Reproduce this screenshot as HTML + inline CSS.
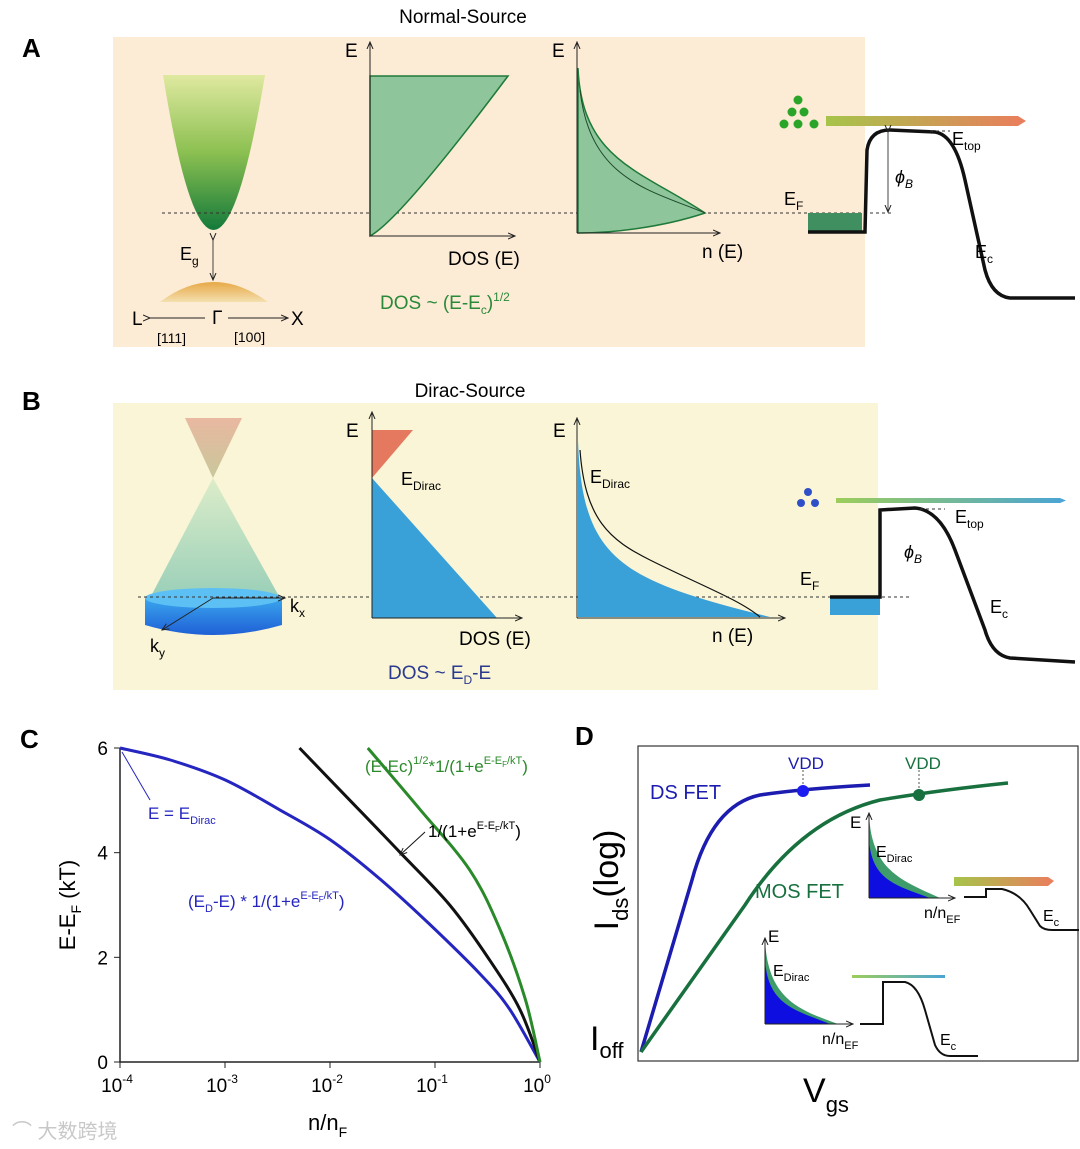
<!DOCTYPE html>
<html><head><meta charset="utf-8"><style>
body{margin:0;background:#fff}
svg{display:block;font-family:"Liberation Sans","Noto Sans CJK SC",sans-serif}
</style></head><body>
<svg width="1080" height="1149" viewBox="0 0 1080 1149">
<defs>
<linearGradient id="gband" x1="0" y1="0" x2="0" y2="1"><stop offset="0" stop-color="#dfe9a0"/><stop offset="0.5" stop-color="#8cc051"/><stop offset="1" stop-color="#137a3a"/></linearGradient>
<linearGradient id="gval" x1="0" y1="0" x2="0" y2="1"><stop offset="0" stop-color="#e7a946"/><stop offset="1" stop-color="#f4dfae"/></linearGradient>
<linearGradient id="gbarA" x1="0" x2="1"><stop offset="0" stop-color="#a6c44a"/><stop offset="1" stop-color="#ea7d5d"/></linearGradient>
<linearGradient id="gbarB" x1="0" x2="1"><stop offset="0" stop-color="#9ccd5b"/><stop offset="1" stop-color="#4aa4d6"/></linearGradient>
<linearGradient id="gcone1" x1="0" y1="0" x2="0" y2="1"><stop offset="0" stop-color="#e9b8a0"/><stop offset="1" stop-color="#c9c79b"/></linearGradient>
<linearGradient id="gcone2" x1="0" y1="0" x2="0" y2="1"><stop offset="0" stop-color="#d9ecc8"/><stop offset="1" stop-color="#8fcbb5"/></linearGradient>
<linearGradient id="gdisk" x1="0" y1="0" x2="0" y2="1"><stop offset="0" stop-color="#3aa6ee"/><stop offset="1" stop-color="#1f5fd6"/></linearGradient>
<marker id="ar" markerWidth="8" markerHeight="8" refX="7" refY="4" orient="auto"><path d="M0,1 L7,4 L0,7" fill="none" stroke="#222" stroke-width="1"/></marker>
</defs>

<!-- Panel A -->
<g>
<text x="463" y="23" font-size="19" text-anchor="middle">Normal-Source</text>
<text x="22" y="57" font-size="26" font-weight="bold">A</text>
<rect x="113" y="37" width="752" height="310" fill="#fcebd5"/>
<path d="M163,75 Q213,385 265,75 Z" fill="url(#gband)"/>
<path d="M160,302 Q213,262 268,302 Z" fill="url(#gval)"/>
<line x1="213" y1="240" x2="213" y2="280" stroke="#444" stroke-width="1" marker-end="url(#ar)" marker-start="url(#ar)"/>
<text x="180" y="260" font-size="18">E<tspan font-size="12" dy="5">g</tspan></text>
<line x1="150" y1="318" x2="205" y2="318" stroke="#222" marker-start="url(#ar)"/>
<line x1="228" y1="318" x2="288" y2="318" stroke="#222" marker-end="url(#ar)"/>
<text x="132" y="325" font-size="19">L</text><text x="212" y="324" font-size="19">Γ</text><text x="291" y="325" font-size="19">X</text>
<text x="157" y="343" font-size="14">[111]</text><text x="234" y="342" font-size="14">[100]</text>
<line x1="162" y1="213" x2="892" y2="213" stroke="#333" stroke-dasharray="3,3"/>
<path d="M370,236 L370,76 L508,76 Q400,220 370,236 Z" fill="#8ec59a" stroke="#1e7a3a" stroke-width="1.5"/>
<line x1="370" y1="236" x2="370" y2="42" stroke="#222" marker-end="url(#ar)"/>
<line x1="370" y1="236" x2="515" y2="236" stroke="#222" marker-end="url(#ar)"/>
<text x="345" y="57" font-size="19">E</text><text x="448" y="265" font-size="19">DOS (E)</text>
<text x="380" y="309" font-size="19" fill="#2a8a3a">DOS ~ (E-E<tspan font-size="12" dy="5">c</tspan><tspan dy="-5">)</tspan><tspan font-size="12" dy="-8">1/2</tspan></text>
<path d="M578,68 C582,160 640,170 705,213 C660,228 610,233 578,233 Z" fill="#8ec59a" stroke="#1e7a3a" stroke-width="1.5"/>
<path d="M580,90 C590,180 650,190 705,213" fill="none" stroke="#1e4a2a" stroke-width="1"/>
<line x1="577" y1="233" x2="577" y2="42" stroke="#222" marker-end="url(#ar)"/>
<line x1="577" y1="233" x2="720" y2="233" stroke="#222" marker-end="url(#ar)"/>
<text x="552" y="57" font-size="19">E</text><text x="702" y="258" font-size="19">n (E)</text>
<g fill="#2aa52a"><circle cx="798" cy="100" r="4.5"/><circle cx="792" cy="112" r="4.5"/><circle cx="804" cy="112" r="4.5"/><circle cx="784" cy="124" r="4.5"/><circle cx="798" cy="124" r="4.5"/><circle cx="814" cy="124" r="4.5"/></g>
<path d="M826,116 L1018,116 L1026,121 L1018,126 L826,126 Z" fill="url(#gbarA)"/>
<rect x="808" y="213" width="54" height="19" fill="#3f8f60"/>
<path d="M808,232 L865,232 L867,150 Q870,130 890,130 L935,132 Q955,135 965,180 L985,270 Q992,296 1010,298 L1075,298" fill="none" stroke="#111" stroke-width="3.5"/>
<line x1="888" y1="132" x2="888" y2="212" stroke="#444" marker-end="url(#ar)" marker-start="url(#ar)"/>
<line x1="930" y1="131" x2="950" y2="131" stroke="#333" stroke-dasharray="3,3"/>
<text x="784" y="205" font-size="18">E<tspan font-size="12" dy="5">F</tspan></text>
<text x="895" y="183" font-size="18" font-style="italic">ϕ<tspan font-size="12" dy="5">B</tspan></text>
<text x="952" y="145" font-size="18">E<tspan font-size="12" dy="5">top</tspan></text>
<text x="975" y="258" font-size="18">E<tspan font-size="12" dy="5">c</tspan></text>
</g>

<!-- Panel B -->
<g>
<text x="470" y="397" font-size="19" text-anchor="middle">Dirac-Source</text>
<text x="22" y="410" font-size="26" font-weight="bold">B</text>
<rect x="113" y="403" width="765" height="287" fill="#f9f5d6"/>
<path d="M185,418 L242,418 L213,478 Z" fill="url(#gcone1)"/>
<path d="M213,478 L150,598 L280,598 Z" fill="url(#gcone2)" opacity="0.9"/>
<path d="M145,598 L145,625 Q213,645 282,625 L282,598 Z" fill="url(#gdisk)"/>
<ellipse cx="213" cy="598" rx="68" ry="10" fill="#5cc0f5"/>
<line x1="213" y1="598" x2="285" y2="598" stroke="#222" marker-end="url(#ar)"/>
<line x1="213" y1="598" x2="162" y2="630" stroke="#222" marker-end="url(#ar)"/>
<text x="290" y="612" font-size="18">k<tspan font-size="12" dy="5">x</tspan></text>
<text x="150" y="652" font-size="18">k<tspan font-size="12" dy="5">y</tspan></text>
<line x1="138" y1="597" x2="912" y2="597" stroke="#333" stroke-dasharray="3,3"/>
<path d="M372,430 L413,430 L372,478 Z" fill="#e4795f"/>
<path d="M372,478 L372,618 L497,618 Z" fill="#3aa0d8"/>
<line x1="372" y1="618" x2="372" y2="412" stroke="#222" marker-end="url(#ar)"/>
<line x1="372" y1="618" x2="522" y2="618" stroke="#222" marker-end="url(#ar)"/>
<text x="346" y="437" font-size="19">E</text>
<text x="401" y="485" font-size="18">E<tspan font-size="12" dy="5">Dirac</tspan></text>
<text x="459" y="645" font-size="19">DOS (E)</text>
<text x="388" y="679" font-size="19" fill="#2b3a8f">DOS ~ E<tspan font-size="12" dy="5">D</tspan><tspan dy="-5">-E</tspan></text>
<path d="M578,440 C582,560 620,580 770,617 L578,617 Z" fill="#3aa0d8"/>
<path d="M580,450 C585,520 610,540 650,560 C700,585 740,600 760,617" fill="none" stroke="#111" stroke-width="1.2"/>
<line x1="577" y1="618" x2="577" y2="418" stroke="#222" marker-end="url(#ar)"/>
<line x1="577" y1="618" x2="785" y2="618" stroke="#222" marker-end="url(#ar)"/>
<text x="553" y="437" font-size="19">E</text>
<text x="590" y="483" font-size="18">E<tspan font-size="12" dy="5">Dirac</tspan></text>
<text x="712" y="642" font-size="19">n (E)</text>
<g fill="#2f4fc8"><circle cx="808" cy="492" r="4"/><circle cx="801" cy="503" r="4"/><circle cx="815" cy="503" r="4"/></g>
<path d="M836,498 L1060,498 L1066,500.5 L1060,503 L836,503 Z" fill="url(#gbarB)"/>
<rect x="830" y="597" width="50" height="18" fill="#3aa0d8"/>
<path d="M830,597 L880,597 L880,510 L915,508 Q940,510 955,550 L985,630 Q992,655 1010,658 L1075,662" fill="none" stroke="#111" stroke-width="3.5"/>
<line x1="920" y1="509" x2="945" y2="509" stroke="#333" stroke-dasharray="3,3"/>
<text x="800" y="585" font-size="18">E<tspan font-size="12" dy="5">F</tspan></text>
<text x="904" y="558" font-size="18" font-style="italic">ϕ<tspan font-size="12" dy="5">B</tspan></text>
<text x="955" y="523" font-size="18">E<tspan font-size="12" dy="5">top</tspan></text>
<text x="990" y="613" font-size="18">E<tspan font-size="12" dy="5">c</tspan></text>
</g>

<!-- Panel C -->
<text x="20" y="748" font-size="26" font-weight="bold">C</text>
<g id="chartC"></g>
<text x="148" y="819" font-size="17" fill="#2525c0">E = E<tspan font-size="11" dy="5">Dirac</tspan></text>
<line x1="150" y1="800" x2="122" y2="752" stroke="#2525c0"/>
<text x="188" y="907" font-size="17" fill="#2525c0">(E<tspan font-size="11" dy="5">D</tspan><tspan dy="-5">-E) * 1/(1+e</tspan><tspan font-size="11" dy="-8">E-E</tspan><tspan font-size="8" dy="3">F</tspan><tspan font-size="11" dy="-3">/kT</tspan><tspan dy="8">)</tspan></text>
<text x="428" y="837" font-size="17">1/(1+e<tspan font-size="11" dy="-8">E-E</tspan><tspan font-size="8" dy="3">F</tspan><tspan font-size="11" dy="-3">/kT</tspan><tspan dy="8">)</tspan></text>
<line x1="425" y1="832" x2="400" y2="855" stroke="#111" marker-end="url(#ar)"/>
<text x="365" y="772" font-size="17" fill="#2a8a2a">(E-Ec)<tspan font-size="11" dy="-8">1/2</tspan><tspan dy="8">*1/(1+e</tspan><tspan font-size="11" dy="-8">E-E</tspan><tspan font-size="8" dy="3">F</tspan><tspan font-size="11" dy="-3">/kT</tspan><tspan dy="8">)</tspan></text>
<text transform="translate(75,905) rotate(-90)" font-size="22" text-anchor="middle">E-E<tspan font-size="14" dy="6">F</tspan><tspan dy="-6"> (kT)</tspan></text>
<text x="308" y="1130" font-size="22">n/n<tspan font-size="14" dy="7">F</tspan></text>

<!-- Panel D -->
<g>
<text x="575" y="745" font-size="26" font-weight="bold">D</text>
<rect x="638" y="746" width="440" height="315" fill="none" stroke="#333" stroke-width="1.2"/>
<path d="M641,1052 L692,880 Q712,805 760,795 Q800,789 870,785" fill="none" stroke="#1c1cb0" stroke-width="3.5"/>
<path d="M641,1052 L745,905 Q800,820 880,800 Q940,790 1008,783" fill="none" stroke="#17703e" stroke-width="3.5"/>
<line x1="803" y1="770" x2="803" y2="790" stroke="#555" stroke-dasharray="2,2"/>
<line x1="919" y1="770" x2="919" y2="795" stroke="#555" stroke-dasharray="2,2"/>
<circle cx="803" cy="791" r="6" fill="#1c1cf0"/><circle cx="919" cy="795" r="6" fill="#17703e"/>
<text x="788" y="769" font-size="17" fill="#1c1cb0">VDD</text>
<text x="905" y="769" font-size="17" fill="#17703e">VDD</text>
<text x="650" y="799" font-size="20" fill="#1c1cb0">DS FET</text>
<text x="755" y="898" font-size="20" fill="#17703e">MOS FET</text>
<text transform="translate(618,880) rotate(-90)" font-size="34" text-anchor="middle">I<tspan font-size="22" dy="10">ds</tspan><tspan dy="-10">(log)</tspan></text>
<text x="590" y="1050" font-size="34">I<tspan font-size="22" dy="8">off</tspan></text>
<text x="803" y="1102" font-size="34">V<tspan font-size="22" dy="10">gs</tspan></text>
<path d="M869,815 C872,870 900,880 940,898 L869,898 Z" fill="#3e9c6a"/>
<path d="M869,840 C872,880 895,885 930,898 L869,898 Z" fill="#0e0ee0"/>
<line x1="869" y1="898" x2="869" y2="813" stroke="#222" marker-end="url(#ar)"/>
<line x1="869" y1="898" x2="955" y2="898" stroke="#222" marker-end="url(#ar)"/>
<text x="850" y="828" font-size="17">E</text>
<text x="876" y="857" font-size="16">E<tspan font-size="11" dy="5">Dirac</tspan></text>
<text x="924" y="918" font-size="16">n/n<tspan font-size="11" dy="5">EF</tspan></text>
<path d="M954,877 L1048,877 L1054,881 L1048,886 L954,886 Z" fill="url(#gbarA)"/>
<path d="M964,897 L986,897 L986,889 L1002,889 Q1020,893 1030,910 L1040,926 Q1044,930 1052,930 L1079,930" fill="none" stroke="#111" stroke-width="2"/>
<text x="1043" y="921" font-size="16">E<tspan font-size="11" dy="5">c</tspan></text>
<path d="M765,940 C768,1000 800,1010 838,1024 L765,1024 Z" fill="#3e9c6a"/>
<path d="M765,960 C768,1005 795,1010 830,1024 L765,1024 Z" fill="#0e0ee0"/>
<line x1="765" y1="1024" x2="765" y2="938" stroke="#222" marker-end="url(#ar)"/>
<line x1="765" y1="1024" x2="853" y2="1024" stroke="#222" marker-end="url(#ar)"/>
<text x="768" y="942" font-size="17">E</text>
<text x="773" y="976" font-size="16">E<tspan font-size="11" dy="5">Dirac</tspan></text>
<text x="822" y="1044" font-size="16">n/n<tspan font-size="11" dy="5">EF</tspan></text>
<path d="M852,975 L945,975 L945,978 L852,978 Z" fill="url(#gbarB)"/>
<path d="M860,1024 L883,1024 L883,982 L905,982 Q918,985 925,1010 L935,1045 Q940,1056 950,1056 L978,1056" fill="none" stroke="#111" stroke-width="2"/>
<text x="940" y="1045" font-size="16">E<tspan font-size="11" dy="5">c</tspan></text>
</g>

<text x="12" y="1138" font-size="20" fill="#c8c8c8">⌒ 大数跨境</text>
</svg>
<script>
const xTickExps=[-4,-3,-2,-1,0];
const yTicks=[0,2,4,6];
const blueLogN=[-4,-3.52,-3,-2.48,-2,-1.52,-1.05,-0.57,-0.29,0];
const blueE=[6,5.77,5.39,4.82,4.25,3.49,2.63,1.68,1.01,0];
const blackLogN=[-2.29,-1.81,-1.33,-0.86,-0.48,-0.19,0];
const blackE=[6,5,4,3,1.95,1,0];
const greenLogN=[-1.64,-1.14,-0.67,-0.38,-0.14,0];
const greenE=[6,4.82,3.67,2.53,1.2,0];
(function(){
const NS="http://www.w3.org/2000/svg";
const g=document.getElementById('chartC');
const X0=120,X1=540,Y0=1062,Y1=748;
const sx=v=>X0+(v-(-4))/4*(X1-X0);
const sy=v=>Y0-(v/6)*(Y0-Y1);
function el(t,a){const e=document.createElementNS(NS,t);for(const k in a)e.setAttribute(k,a[k]);g.appendChild(e);return e;}
const ax=el('path',{d:`M${X0},${Y1} L${X0},${Y0} L${X1},${Y0}`,fill:'none',stroke:'#222','stroke-width':1.5});


yTicks.forEach(v=>{
 el('line',{x1:X0-6,x2:X0,y1:sy(v),y2:sy(v),stroke:'#222'});
 const t=el('text',{x:X0-12,y:sy(v)+7,'font-size':19,'text-anchor':'end'});t.textContent=v;
 
 
});
xTickExps.forEach(v=>{
 el('line',{x1:sx(v),x2:sx(v),y1:Y0,y2:Y0+6,stroke:'#222'});
 const t=el('text',{x:sx(v)-3,y:Y0+30,'font-size':19,'text-anchor':'middle'});
 t.innerHTML='10<tspan font-size="12" dy="-9">'+v+'</tspan>';
 
 
});
function series(xs,ys,c,name){
 const P=xs.map((x,i)=>[sx(x),sy(ys[i])]);
 let d='M'+P[0][0].toFixed(1)+','+P[0][1].toFixed(1);
 for(let i=0;i<P.length-1;i++){
  const p0=P[Math.max(i-1,0)],p1=P[i],p2=P[i+1],p3=P[Math.min(i+2,P.length-1)];
  const c1=[p1[0]+(p2[0]-p0[0])/6,p1[1]+(p2[1]-p0[1])/6];
  const c2=[p2[0]-(p3[0]-p1[0])/6,p2[1]-(p3[1]-p1[1])/6];
  d+=` C${c1[0].toFixed(1)},${c1[1].toFixed(1)} ${c2[0].toFixed(1)},${c2[1].toFixed(1)} ${p2[0].toFixed(1)},${p2[1].toFixed(1)}`;
 }
 const p=el('path',{d:d,fill:'none',stroke:c,'stroke-width':3});
 
 
}
series(blueLogN,blueE,'#2525c0','series-dirac');
series(blackLogN,blackE,'#111','series-fermi');
series(greenLogN,greenE,'#2a8a2a','series-normal');
})();
</script>
</body></html>
